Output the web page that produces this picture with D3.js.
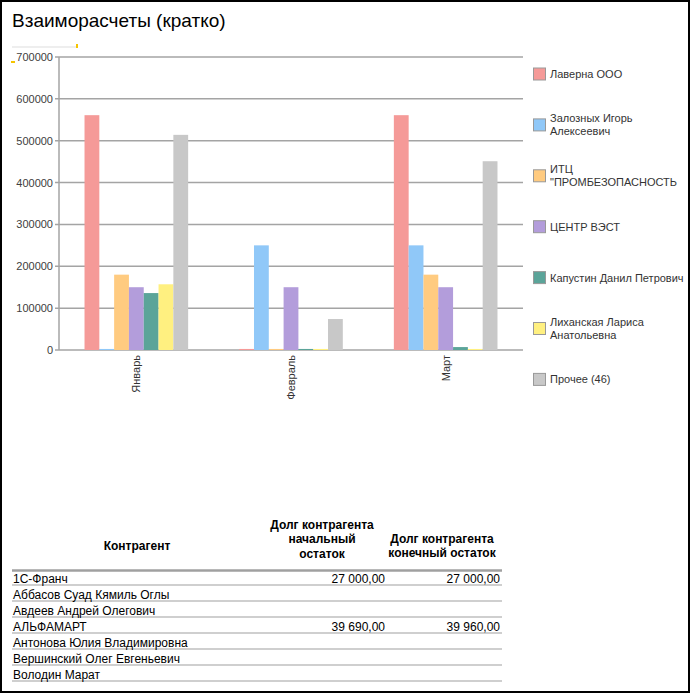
<!DOCTYPE html>
<html>
<head>
<meta charset="utf-8">
<script src="https://cdn.jsdelivr.net/npm/d3@7"></script>
<style>
  body { margin: 0; background: #fff; }
  svg { display: block; font-family: Arial, "Liberation Sans", sans-serif; }
</style>
</head>
<body>
<div id="chart"></div>
<script>
// Данные
const months = ["Январь", "Февраль", "Март"];
const series = ["Лаверна ООО", "Залозных Игорь Алексеевич", "ИТЦ \"ПРОМБЕЗОПАСНОСТЬ", "ЦЕНТР ВЭСТ",
  "Капустин Данил Петрович", "Лиханская Лариса Анатольевна", "Прочее (46)"];
const legendLines = [["Лаверна ООО"], ["Залозных Игорь", "Алексеевич"], ["ИТЦ", "\"ПРОМБЕЗОПАСНОСТЬ"],
  ["ЦЕНТР ВЭСТ"], ["Капустин Данил Петрович"], ["Лиханская Лариса", "Анатольевна"], ["Прочее (46)"]];
const lavernaVals = [561000, 2500, 561000];
const zaloznyhVals = [2500, 250000, 250000];
const itcVals = [180000, 2500, 180000];
const centrVals = [150000, 150000, 150000];
const kapustinVals = [136000, 2500, 7000];
const lihanskayaVals = [157000, 2500, 2500];
const prochieVals = [514000, 74000, 451000];
const yTicks = [0, 100000, 200000, 300000, 400000, 500000, 600000, 700000];
const colors = ["#f59a98", "#90c8f8", "#ffcb80", "#b39ddb", "#5ba499", "#fff080", "#c8c8c8"];

const tableHeader = [["Контрагент"], ["Долг контрагента", "начальный", "остаток"], ["Долг контрагента", "конечный остаток"]];
const rowNames = ["1С-Франч", "Аббасов Суад Кямиль Оглы", "Авдеев Андрей Олегович", "АЛЬФАМАРТ",
  "Антонова Юлия Владимировна", "Вершинский Олег Евгеньевич", "Володин Марат"];
const startDebt = ["27 000,00", "", "", "39 690,00", "", "", ""];
const endDebt = ["27 000,00", "", "", "39 960,00", "", "", ""];

const allVals = [lavernaVals, zaloznyhVals, itcVals, centrVals, kapustinVals, lihanskayaVals, prochieVals];

const width = 693, height = 695;
const margin = { top: 57, right: 170, bottom: 345, left: 59 };

const svg = d3.select("#chart").append("svg")
  .attr("width", width).attr("height", height);

// рамка
svg.append("rect").attr("x", 1).attr("y", 1).attr("width", 688).attr("height", 691)
  .attr("fill", "none").attr("stroke", "#000").attr("stroke-width", 2);

svg.append("text").attr("x", 12).attr("y", 27).attr("font-size", 19).attr("fill", "#000")
  .text("Взаиморасчеты (кратко)");

// следы выделения
svg.append("rect").attr("x", 12).attr("y", 46).attr("width", 65).attr("height", 2).attr("fill", "#eeeeee");
svg.append("rect").attr("x", 76).attr("y", 44).attr("width", 2).attr("height", 4).attr("fill", "#f5c400");
svg.append("rect").attr("x", 11).attr("y", 61).attr("width", 4).attr("height", 2).attr("fill", "#f5c400");

const x0 = d3.scaleBand().domain(months)
  .range([margin.left, 523]).paddingInner(0.33).paddingOuter(0.165);
const x1 = d3.scaleBand().domain(series).range([0, x0.bandwidth()]);
const y = d3.scaleLinear().domain([0, 700000]).range([350, margin.top]);

// сетка
svg.append("g").selectAll("line").data(yTicks).join("line")
  .attr("x1", 55).attr("x2", 523)
  .attr("y1", d => y(d)).attr("y2", d => y(d))
  .attr("stroke", "#a4a4a4").attr("stroke-width", 1.5);

svg.append("line").attr("x1", margin.left).attr("x2", margin.left)
  .attr("y1", y(700000)).attr("y2", y(0)).attr("stroke", "#a4a4a4").attr("stroke-width", 1.5);

svg.append("g").selectAll("text").data(yTicks).join("text")
  .attr("x", 53).attr("y", d => y(d) + 4)
  .attr("text-anchor", "end").attr("font-size", 11).attr("fill", "#404040")
  .text(d => d);

// столбцы
const groups = svg.append("g").selectAll("g").data(months).join("g")
  .attr("transform", d => `translate(${x0(d)},0)`);
groups.selectAll("rect")
  .data((m, i) => series.map((s, k) => ({ s, k, v: allVals[k][i] })))
  .join("rect")
  .attr("x", d => x1(d.s))
  .attr("width", x1.bandwidth())
  .attr("y", d => y(d.v))
  .attr("height", d => y(0) - y(d.v))
  .attr("fill", d => colors[d.k]);

// подписи месяцев
svg.append("g").selectAll("text").data(months).join("text")
  .attr("transform", d => `translate(${x0(d) + x0.bandwidth() / 2 + 4},355) rotate(-90)`)
  .attr("text-anchor", "end").attr("font-size", 11).attr("fill", "#333")
  .text(d => d);

// легенда
const leg = svg.append("g").selectAll("g").data(series).join("g")
  .attr("transform", (d, i) => `translate(533,${74 + i * 50.9})`);
leg.append("rect").attr("x", 0.5).attr("y", -6).attr("width", 12).attr("height", 12)
  .attr("fill", (d, i) => colors[i]).attr("stroke", "#999");
leg.each(function (d, i) {
  const lines = legendLines[i];
  const t = d3.select(this).append("text").attr("font-size", 11).attr("fill", "#333");
  lines.forEach((l, j) => {
    t.append("tspan").attr("x", 17)
      .attr("y", 4 + (j - (lines.length - 1) / 2) * 13)
      .text(l);
  });
});

// таблица
const colCenters = [137, 322, 442];
const headerY = [546, 539, 546];
const tbl = svg.append("g");
tableHeader.forEach((lines, c) => {
  const t = tbl.append("text").attr("text-anchor", "middle").attr("font-size", 12)
    .attr("font-weight", "bold").attr("fill", "#000");
  lines.forEach((l, j) => {
    t.append("tspan").attr("x", colCenters[c])
      .attr("y", headerY[c] + 4 + (j - (lines.length - 1) / 2) * 14.5)
      .text(l);
  });
});
tbl.append("line").attr("x1", 12).attr("x2", 502).attr("y1", 570.5).attr("y2", 570.5)
  .attr("stroke", "#a0a0a0").attr("stroke-width", 2.5);

const rowY = d3.scaleBand().domain(rowNames).range([571, 683]);
const rows = tbl.selectAll("g.row").data(rowNames).join("g").attr("class", "row")
  .attr("transform", d => `translate(0,${rowY(d)})`);
rows.append("line").attr("x1", 12).attr("x2", 502).attr("y1", 14).attr("y2", 14)
  .attr("stroke", "#a0a0a0").attr("stroke-width", 1.2);
rows.append("text").attr("x", 13).attr("y", 11.5).attr("font-size", 12).attr("fill", "#000")
  .text(d => d);
rows.append("text").attr("x", 385).attr("y", 11.5).attr("font-size", 12).attr("fill", "#000")
  .attr("text-anchor", "end").text((d, i) => startDebt[i]);
rows.append("text").attr("x", 500).attr("y", 11.5).attr("font-size", 12).attr("fill", "#000")
  .attr("text-anchor", "end").text((d, i) => endDebt[i]);
</script>
</body>
</html>
